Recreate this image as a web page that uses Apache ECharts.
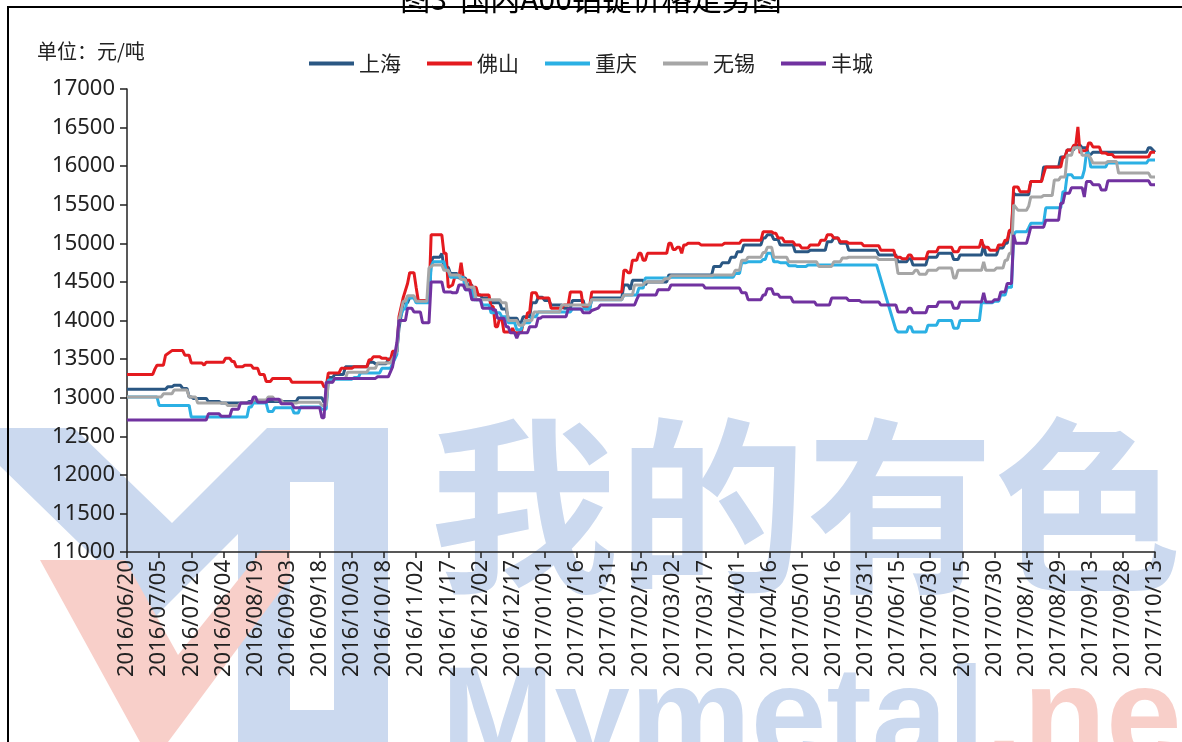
<!DOCTYPE html>
<html>
<head>
<meta charset="utf-8">
<script src="https://cdn.jsdelivr.net/npm/echarts@6/dist/echarts.min.js"></script>
<style>
  html, body { margin: 0; padding: 0; background: #fff; }
  #chart { width: 1182px; height: 742px; }
</style>
</head>
<body>
<div id="chart"></div>
<script>
// 起始日期, x 轴按天计, 每 15 天一个刻度
var startDate = Date.UTC(2016, 5, 20);
var totalDays = 480;
var cities = ['上海', '佛山', '重庆', '无锡', '丰城'];
var colors = ['#2a5783', '#e41a1f', '#2bb0e4', '#a6a6a6', '#7132a0'];
var yTicks = { min: 11000, max: 17000, step: 500 };

// [天数, 价格]
var shanghai = [[0,13110],[18,13110],[19,13140],[21,13140],[22,13160],[25,13160],[26,13120],[28,13120],[29,13010],[30,13010],[31,12990],[37,12990],[38,12950],[43,12950],[44,12930],[56,12930],[57,12950],[79,12950],[80,13000],[91,13000],[92,12940],[93,12940],[94,13260],[96,13260],[97,13300],[101,13300],[102,13400],[112,13400],[113,13460],[115,13460],[116,13440],[121,13440],[122,13500],[124,13500],[125,13580],[126,13600],
  [127,13900],[129,14230],[131,14230],[132,14300],[134,14300],[135,14280],[136,14260],[141,14260],[142,14760],[143,14820],[146,14820],[147,14870],[148,14690],[150,14690],[151,14610],[154,14610],[155,14550],[158,14550],[159,14460],[161,14460],[162,14330],[165,14330],[166,14290],[169,14290],[170,14230],[174,14230],[175,14150],[177,14150],[178,14030],[182,14030],[183,13970],[184,13970],[185,14050],[188,14050],[189,14230],[191,14230],[192,14300],[194,14300],[195,14260],[197,14260],[198,14200],[203,14200],[204,14160],[207,14160],[208,14260],[213,14260],[214,14150],[216,14150],
  [217,14290],[231,14290],[232,14460],[234,14460],[235,14400],[236,14520],[241,14520],[242,14460],[243,14500],[252,14500],[253,14590],[273,14590],[274,14700],[277,14700],[278,14750],[281,14750],[282,14820],[284,14820],[285,14890],[287,14890],[288,14980],[296,14980],[297,15070],[298,15070],[299,15110],[301,15110],[302,15050],[304,15050],[305,14980],[311,14980],[312,14890],[318,14890],[319,14910],[326,14910],[327,15020],[329,15020],[330,15070],[332,15070],[333,15000],[336,15000],[337,14910],[350,14910],[351,14850],[359,14850],[360,14760],[364,14760],[365,14800],[366,14800],[367,14720],[373,14720],[374,14820],[378,14820],[379,14870],[385,14870],[386,14790],[388,14790],[389,14850],[399,14850],[400,14980],[401,14850],[406,14850],[407,14940],[409,14940],[410,15000],[411,15000],[412,15150],[413,15150],[414,15650],[415,15630],[421,15630],[422,15800],[427,15800],[428,15990],[435,15990],[436,16120],[438,16120],[439,16210],[442,16210],[443,16270],[445,16270],[446,16240],[448,16240],[449,16150],[450,16150],[451,16180],[476,16180],[477,16240],[478,16240],[480,16180]];

var foshan = [[0,13300],[12,13300],[13,13370],[14,13420],[17,13420],[18,13550],[21,13610],[26,13610],[27,13550],[29,13550],[30,13450],[35,13450],[36,13420],[37,13460],[45,13460],[46,13510],[48,13510],[49,13470],[50,13470],[51,13400],[54,13400],[55,13420],[58,13420],[59,13380],[61,13380],[62,13300],[64,13300],[65,13210],[67,13210],[68,13250],[76,13250],[77,13200],[91,13200],[92,13140],[93,13140],[94,13320],[99,13320],[100,13380],[105,13380],[106,13400],[112,13400],[113,13490],[114,13490],[115,13530],[118,13530],[119,13510],[121,13510],[122,13490],[123,13490],[124,13600],[126,13600],
  [127,14050],[129,14300],[131,14480],[132,14620],[134,14620],[135,14430],[136,14260],[141,14260],[142,15110],[147,15110],[148,14870],[149,14870],[150,14430],[152,14460],[153,14560],[155,14560],[156,14750],[157,14550],[158,14520],[160,14520],[161,14430],[163,14430],[164,14330],[169,14330],[170,14180],[171,14180],[172,13920],[173,13920],[174,14030],[175,14030],[176,13850],[179,13850],[180,13900],[181,13840],[184,13840],[185,13970],[186,13970],[187,14100],[188,14100],[189,14360],[191,14360],[192,14290],[197,14290],[198,14160],[203,14160],[204,14200],[206,14200],[207,14370],[212,14370],[213,14180],[216,14180],
  [217,14370],[231,14370],[232,14650],[233,14650],[234,14620],[235,14620],[236,14780],[238,14780],[239,14870],[240,14870],[241,14780],[242,14780],[243,14870],[252,14870],[253,15000],[254,15000],[255,14920],[256,14920],[257,14950],[258,14950],[259,14870],[260,14980],[261,14980],[262,15000],[267,15000],[268,14980],[278,14980],[279,15000],[286,15000],[287,15040],[296,15040],[297,15150],[301,15150],[302,15130],[303,15130],[304,15070],[306,15070],[307,15020],[311,15020],[312,14980],[314,14980],[315,14940],[318,14940],[319,14980],[323,14980],[324,15040],[326,15040],[327,15110],[329,15110],[330,15070],[332,15070],[333,15020],[336,15020],[337,15000],[343,15000],[344,14970],[351,14970],[352,14910],[358,14910],[359,14820],[361,14820],
  [362,14800],[364,14800],[365,14850],[366,14850],[367,14800],[373,14800],[374,14890],[378,14890],[379,14950],[385,14950],[386,14890],[388,14890],[389,14950],[398,14950],[399,15050],[400,14950],[402,14950],[403,14910],[406,14910],[407,14980],[409,14980],[410,15040],[411,15040],[412,15170],[413,15170],[414,15730],[416,15730],[417,15670],[421,15670],[422,15800],[427,15800],[429,15990],[436,15990],[437,16120],[438,16120],[439,16210],[441,16210],[442,16270],[443,16270],[444,16510],[445,16170],[446,16200],[448,16200],[449,16300],[450,16300],[451,16250],[454,16250],[455,16170],[457,16170],[458,16150],[460,16150],[461,16120],[477,16120],[478,16180],[480,16180]];

var chongqing = [[0,13010],[14,13010],[15,12900],[29,12900],[30,12750],[56,12750],[57,12880],[58,12880],[59,12930],[65,12930],[66,12820],[68,12820],[69,12870],[77,12870],[78,12800],[80,12800],[81,12880],[90,12880],[91,12850],[93,12850],[94,13230],[96,13230],[97,13240],[105,13240],[106,13260],[108,13260],[109,13320],[118,13320],[119,13380],[123,13380],[125,13500],[126,13560],
  [127,14000],[129,14150],[130,14150],[131,14290],[134,14290],[135,14230],[141,14230],[142,14700],[143,14760],[148,14760],[149,14650],[150,14650],[151,14560],[157,14560],[158,14400],[161,14400],[162,14270],[165,14270],[166,14200],[169,14200],[170,14100],[174,14100],[175,14050],[177,14050],[178,13970],[181,13970],[182,13880],[184,13880],[185,13970],[188,13970],[189,14050],[191,14050],[192,14110],[207,14110],[208,14150],[216,14150],
  [217,14270],[231,14270],[232,14330],[238,14330],[239,14420],[241,14420],[242,14550],[253,14550],[254,14560],[283,14560],[284,14610],[286,14610],[287,14750],[289,14750],[290,14760],[296,14760],[297,14790],[298,14790],[299,14870],[301,14870],[302,14760],[304,14760],[305,14750],[308,14750],[309,14710],[312,14710],[313,14700],[317,14700],[318,14720],[350,14720],[355,14250],[359,13880],[360,13850],[364,13850],[365,13920],[366,13920],[367,13850],[373,13850],[374,13940],[378,13940],[379,14000],[385,14000],[386,13900],[388,13900],[389,14000],[398,14000],[399,14230],[404,14230],[405,14250],[407,14250],[408,14330],[410,14330],[411,14430],[413,14430],[414,15110],[415,15150],[420,15150],[421,15200],[422,15260],[428,15260],[429,15460],[436,15460],[437,15670],[438,15670],[439,15890],[441,15890],[442,15850],[446,15850],[447,15950],[448,16170],[449,16170],[450,15990],[457,15990],[458,16050],[459,16040],[476,16040],[477,16080],[480,16080]];

var wuxi = [[0,13010],[16,13010],[17,13050],[21,13050],[22,13100],[28,13100],[29,13010],[32,13010],[33,12930],[46,12930],[47,12900],[52,12900],[53,12930],[58,12930],[59,12970],[65,12970],[66,13010],[68,13010],[69,12970],[72,12970],[73,12930],[79,12930],[80,12940],[90,12940],[91,12900],[93,12900],[94,13200],[96,13200],[97,13250],[102,13250],[103,13330],[112,13330],[113,13380],[116,13380],[117,13450],[123,13450],[125,13550],[126,13600],
  [127,14000],[129,14250],[130,14250],[131,14320],[134,14320],[135,14250],[140,14250],[141,14680],[143,14720],[147,14720],[148,14650],[150,14650],[151,14590],[155,14590],[156,14530],[158,14530],[159,14430],[162,14430],[163,14270],[174,14270],[175,14230],[177,14230],[178,14000],[182,14000],[183,13940],[185,13940],[186,14000],[189,14000],[190,14110],[202,14110],[203,14200],[216,14200],
  [217,14270],[231,14270],[232,14330],[236,14330],[237,14460],[241,14460],[242,14500],[250,14500],[251,14540],[253,14540],[254,14580],[273,14580],[274,14590],[283,14590],[284,14650],[286,14650],[287,14780],[289,14780],[290,14820],[296,14820],[297,14880],[298,14880],[299,14950],[301,14950],[302,14820],[308,14820],[309,14760],[322,14760],[323,14700],[329,14700],[330,14760],[333,14760],[334,14810],[336,14810],[337,14820],[350,14820],[351,14790],[359,14790],[360,14610],[367,14610],[368,14650],[369,14650],[370,14600],[373,14600],[374,14650],[378,14650],[379,14680],[385,14680],[386,14550],[387,14550],[388,14650],[399,14650],[400,14760],[401,14650],[405,14650],[406,14680],[409,14680],[410,14780],[411,14780],[412,14870],[413,14870],[414,15500],[416,15430],[420,15430],[421,15480],[422,15600],[427,15600],[428,15620],[432,15620],[433,15820],[435,15820],[436,15860],[438,15860],[439,16140],[441,16140],[442,16240],[445,16240],[446,16140],[449,16140],[450,16100],[451,16040],[457,16040],[458,16060],[462,16060],[463,15910],[477,15910],[478,15860],[480,15860]];

var fengcheng = [[0,12710],[37,12710],[38,12790],[43,12790],[44,12760],[48,12760],[49,12850],[52,12850],[53,12930],[58,12930],[59,13010],[60,13010],[61,12940],[65,12940],[66,12980],[71,12980],[72,12920],[77,12920],[78,12870],[90,12870],[91,12740],[92,12740],[93,13200],[96,13200],[97,13250],[116,13250],[117,13270],[122,13270],[124,13400],[126,13710],
  [127,14000],[130,14000],[131,14160],[133,14160],[134,14110],[137,14110],[138,13970],[141,13970],[142,14500],[147,14500],[148,14370],[151,14370],[152,14360],[154,14360],[155,14460],[157,14460],[158,14400],[160,14400],[161,14270],[165,14270],[166,14160],[170,14160],[171,14140],[172,14140],[173,14030],[176,14030],[177,13920],[178,13920],[179,13840],[181,13840],[182,13770],[183,13840],[187,13840],[188,13920],[191,13920],[192,14030],[193,14030],[194,14050],[205,14050],[206,14150],[212,14150],[213,14100],[216,14100],
  [217,14130],[220,14160],[221,14200],[237,14200],[238,14270],[239,14330],[247,14330],[248,14400],[253,14400],[254,14460],[269,14460],[270,14420],[286,14420],[287,14360],[289,14360],[290,14270],[296,14270],[297,14330],[298,14330],[299,14410],[301,14410],[302,14340],[304,14340],[305,14300],[310,14300],[311,14240],[321,14240],[322,14200],[328,14200],[329,14290],[336,14290],[337,14260],[342,14260],[343,14240],[351,14240],[352,14200],[359,14200],[360,14110],[364,14110],[365,14160],[366,14160],[367,14100],[373,14100],[374,14180],[378,14180],[379,14240],[385,14240],[386,14160],[388,14160],[389,14240],[399,14240],[400,14360],[401,14240],[404,14240],[405,14270],[407,14270],[408,14370],[410,14370],[411,14480],[413,14480],[414,15110],[415,15000],[420,15000],[421,15100],[422,15210],[428,15210],[429,15300],[435,15300],[436,15520],[437,15520],[438,15650],[440,15650],[441,15720],[446,15720],[447,15600],[448,15800],[450,15800],[451,15760],[454,15760],[455,15690],[457,15690],[458,15810],[477,15810],[478,15760],[480,15760]];

var seriesData = [shanghai, foshan, chongqing, wuxi, fengcheng];

function pad(n) { return n < 10 ? '0' + n : '' + n; }
function dayLabel(v) {
    var d = new Date(startDate + v * 86400000);
    return d.getUTCFullYear() + '/' + pad(d.getUTCMonth() + 1) + '/' + pad(d.getUTCDate());
}

var chart = echarts.init(document.getElementById('chart'));

var cjk = 'Noto Sans CJK SC';
var wmBlue = '#cbd9ef';
var wmPink = '#f8cfc9';

var option = {
    animation: false,
    backgroundColor: '#fff',
    title: [{
        text: '图3  国内A00铝锭价格走势图',
        left: 'center',
        top: -21,
        textStyle: { fontFamily: cjk, fontSize: 30, fontWeight: 'normal', color: '#000' }
    }, {
        text: '单位：元/吨',
        left: 32,
        top: 36,
        textStyle: { fontFamily: cjk, fontSize: 20, fontWeight: 'normal', color: '#222' }
    }],
    legend: {
        data: cities,
        left: 'center',
        top: 48,
        icon: 'rect',
        itemWidth: 45,
        itemHeight: 4,
        itemGap: 26,
        textStyle: { fontFamily: cjk, fontSize: 21, color: '#222' }
    },
    grid: { left: 127, right: 27, top: 89, bottom: 190, containLabel: false },
    xAxis: {
        type: 'value',
        min: 0,
        max: totalDays,
        interval: 15,
        axisLine: { lineStyle: { color: '#222', width: 1.5 } },
        axisTick: { length: 6, lineStyle: { color: '#222', width: 1.5 } },
        splitLine: { show: false },
        axisLabel: {
            rotate: 90,
            margin: 8,
            fontFamily: 'Noto Sans',
            fontSize: 22,
            color: '#222',
            formatter: dayLabel
        }
    },
    yAxis: {
        type: 'value',
        min: yTicks.min,
        max: yTicks.max,
        interval: yTicks.step,
        axisLine: { show: true, lineStyle: { color: '#222', width: 1.5 } },
        axisTick: { show: true, length: 7, lineStyle: { color: '#222', width: 1.5 } },
        splitLine: { show: false },
        axisLabel: {
            margin: 12, fontFamily: 'Noto Sans', fontSize: 22, color: '#222',
            formatter: function (v) { return String(v); }
        }
    },
    graphic: [
        // 背景水印
        {
            type: 'polygon', z: -5, silent: true,
            shape: { points: [[0,428],[74,428],[172,523],[267,428],[388,428],[388,742],[238,742],[238,534],[155,617],[0,466]] },
            style: { fill: wmBlue }
        },
        {
            type: 'rect', z: -4, silent: true,
            shape: { x: 290, y: 482, width: 44, height: 228 },
            style: { fill: '#fff' }
        },
        {
            type: 'polygon', z: -5, silent: true,
            shape: { points: [[40,560],[125,560],[178,655],[262,550],[290,550],[290,578],[168,742],[140,742]] },
            style: { fill: wmPink }
        },
        {
            type: 'text', z: -5, silent: true,
            style: {
                text: '我的有色', x: 430, y: 412, verticalAlign: 'top',
                fontFamily: cjk, fontSize: 188, fontWeight: 'bold', fill: wmBlue
            }
        },
        {
            type: 'text', z: -5, silent: true,
            style: {
                text: '{a|Mymetal}{b|.net}', x: 441, y: 655, verticalAlign: 'top',
                rich: {
                    a: { fontFamily: 'Liberation Sans', fontSize: 136, fontWeight: 'bold', fill: wmBlue, color: wmBlue },
                    b: { fontFamily: 'Liberation Sans', fontSize: 136, fontWeight: 'bold', fill: wmPink, color: wmPink }
                }
            }
        },
        // 外框
        {
            type: 'rect', z: 100, silent: true,
            shape: { x: 8, y: 7, width: 1200, height: 800 },
            style: { fill: 'none', stroke: '#000', lineWidth: 2 }
        }
    ],
    series: cities.map(function (name, i) {
        return {
            name: name,
            type: 'line',
            data: seriesData[i],
            symbol: 'none',
            lineStyle: { width: 3, color: colors[i] },
            itemStyle: { color: colors[i] }
        };
    })
};

chart.setOption(option);

window.onresize = function () {
    chart.resize();
};
</script>
</body>
</html>
